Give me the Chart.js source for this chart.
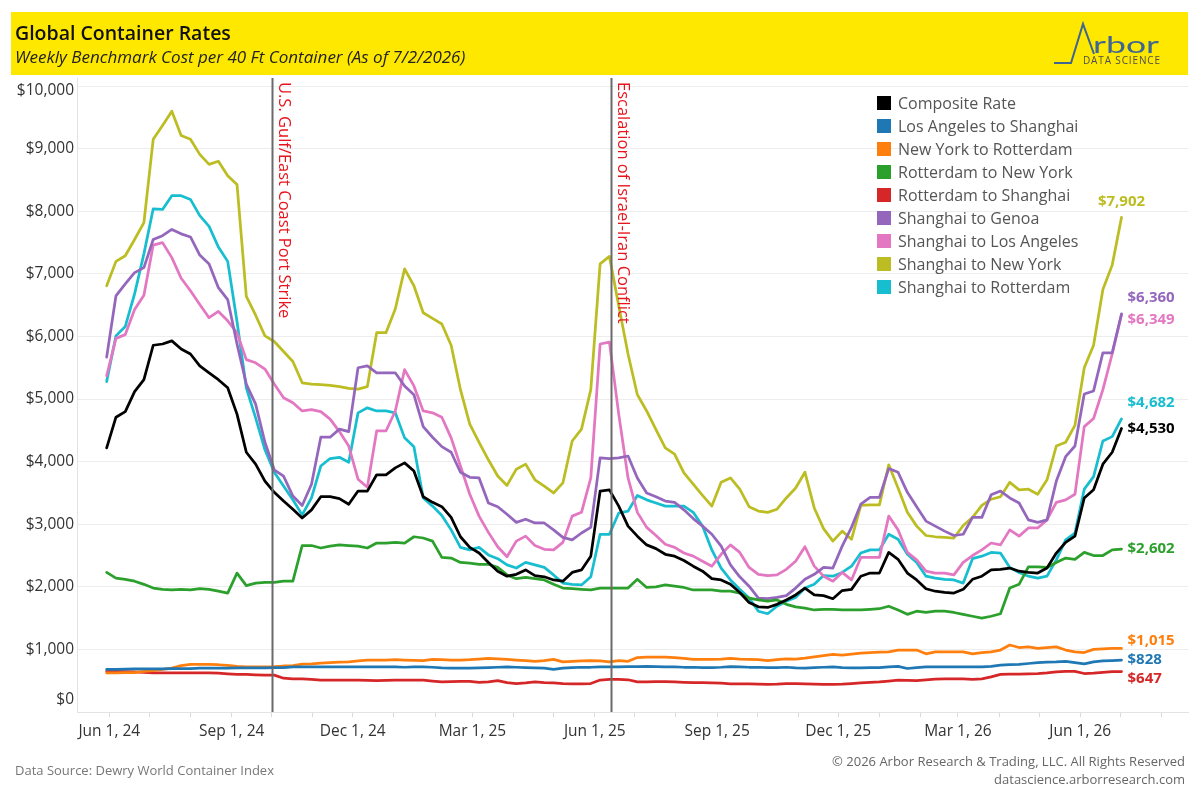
<!DOCTYPE html>
<html>
<head>
<meta charset="utf-8">
<title>Global Container Rates</title>
<script src="https://cdn.jsdelivr.net/npm/chart.js@4.4.1/dist/chart.umd.min.js"></script>
<style>
  html, body { margin: 0; padding: 0; background: #fff; }
  canvas { display: block; }
</style>
</head>
<body>
<canvas id="rates" width="1200" height="800"></canvas>
<script>
/* global Chart */

// weekly Drewry readings, first one on Thu 30 May 2024, last on Thu 2 Jul 2026
const firstWeek = '2024-05-30'
const weekCount = 110

const composite = [
  4220, 4710, 4800, 5120, 5310, 5860, 5880, 5930, 5800, 5720,
  5530, 5420, 5310, 5180, 4760, 4150, 3960, 3690, 3510, 3370,
  3240, 3100, 3230, 3440, 3440, 3410, 3320, 3530, 3530, 3790,
  3790, 3900, 3980, 3850, 3440, 3350, 3280, 3110, 2800, 2630,
  2540, 2390, 2250, 2170, 2200, 2270, 2180, 2160, 2110, 2090,
  2230, 2270, 2490, 3530, 3550, 3290, 2970, 2810, 2670, 2610,
  2520, 2490, 2420, 2330, 2250, 2130, 2110, 2040, 1910, 1750,
  1680, 1670, 1720, 1790, 1870, 1980, 1870, 1860, 1810, 1940,
  1960, 2170, 2220, 2220, 2550, 2440, 2220, 2110, 1970, 1930,
  1910, 1900, 1960, 2120, 2170, 2270, 2280, 2300, 2250, 2230,
  2220, 2300, 2540, 2710, 2810, 3420, 3550, 3960, 4150, 4530
]

const laToShanghai = [
  680, 680, 685, 690, 690, 690, 690, 695, 695, 695,
  700, 700, 700, 700, 705, 705, 705, 705, 710, 710,
  720, 720, 720, 720, 720, 720, 720, 720, 720, 720,
  720, 720, 715, 720, 720, 715, 705, 700, 700, 700,
  705, 710, 715, 720, 715, 710, 705, 700, 680, 700,
  710, 715, 715, 720, 720, 720, 725, 725, 730, 725,
  720, 720, 715, 715, 710, 710, 715, 725, 720, 715,
  715, 710, 710, 715, 705, 700, 710, 715, 720, 710,
  705, 705, 710, 710, 720, 730, 695, 710, 720, 720,
  720, 720, 720, 720, 720, 730, 750, 755, 760, 775,
  790, 795, 800, 810, 790, 770, 800, 815, 820, 828
]

const nyToRotterdam = [
  625, 625, 630, 630, 650, 660, 680, 700, 740, 760,
  760, 760, 755, 745, 730, 720, 720, 720, 725, 735,
  740, 765, 770, 780, 790, 795, 800, 815, 830, 830,
  830, 835, 830, 825, 820, 840, 835, 830, 830, 835,
  845, 855, 850, 840, 830, 820, 810, 820, 840, 800,
  810, 815, 820, 815, 800, 820, 810, 870, 875, 875,
  875, 870, 855, 840, 840, 840, 845, 855, 845, 840,
  835, 820, 835, 850, 845, 860, 880, 900, 920, 910,
  925, 940, 950, 955, 960, 990, 990, 990, 930, 960,
  960, 960, 960, 930, 950, 960, 990, 1070, 1030, 1040,
  1015, 1030, 1040, 990, 960, 950, 1000, 1010, 1015, 1015
]

const rotterdamToNy = [
  2230, 2140, 2120, 2090, 2040, 1980, 1960, 1950, 1960, 1950,
  1970, 1960, 1930, 1900, 2220, 2020, 2060, 2070, 2070, 2090,
  2090, 2660, 2660, 2620, 2650, 2670, 2660, 2650, 2620, 2700,
  2700, 2710, 2700, 2800, 2780, 2730, 2470, 2460, 2390, 2380,
  2360, 2360, 2310, 2190, 2130, 2150, 2130, 2110, 2040, 1980,
  1970, 1960, 1950, 1980, 1980, 1980, 1980, 2120, 1990, 2000,
  2030, 2010, 1990, 1950, 1950, 1950, 1930, 1930, 1900, 1820,
  1790, 1770, 1790, 1720, 1680, 1660, 1630, 1640, 1640, 1630,
  1630, 1630, 1640, 1650, 1690, 1630, 1560, 1610, 1590, 1610,
  1610, 1590, 1560, 1530, 1500, 1530, 1570, 1980, 2040, 2320,
  2320, 2310, 2390, 2460, 2440, 2550, 2500, 2500, 2590, 2602
]

const rotterdamToShanghai = [
  650, 650, 645, 640, 635, 625, 625, 625, 625, 625,
  625, 625, 620, 610, 600, 600, 595, 590, 590, 540,
  530, 530, 520, 510, 510, 510, 510, 510, 505, 500,
  505, 510, 510, 510, 510, 495, 480, 485, 490, 490,
  475, 480, 500, 470, 455, 465, 480, 470, 465, 455,
  450, 450, 455, 510, 520, 520, 515, 480, 480, 485,
  485, 480, 475, 470, 470, 465, 460, 450, 450, 450,
  445, 440, 445, 455, 455, 450, 445, 440, 440, 445,
  455, 465, 475, 480, 495, 510, 505, 500, 515, 525,
  530, 530, 530, 520, 530, 560, 600, 605, 605, 610,
  615, 625, 640, 650, 650, 615, 620, 635, 645, 647
]

const shanghaiToGenoa = [
  5670, 6650, 6840, 7020, 7100, 7550, 7610, 7710, 7640, 7590,
  7300, 7160, 6780, 6590, 5880, 5240, 4920, 4310, 3870, 3770,
  3450, 3300, 3640, 4390, 4390, 4520, 4480, 5500, 5530, 5420,
  5420, 5420, 5210, 5070, 4560, 4390, 4240, 4150, 3830, 3750,
  3740, 3340, 3280, 3160, 3030, 3080, 3020, 3020, 2910, 2790,
  2750, 2860, 2950, 4060, 4050, 4060, 4090, 3740, 3500, 3440,
  3370, 3350, 3230, 3090, 2970, 2840, 2650, 2350, 2160, 2010,
  1820, 1810, 1830, 1860, 1980, 2120, 2200, 2310, 2300, 2650,
  2950, 3320, 3430, 3430, 3890, 3830, 3510, 3280, 3050, 2970,
  2890, 2820, 2840, 3110, 3110, 3470, 3530, 3420, 3340, 3070,
  3030, 3070, 3690, 4080, 4250, 5080, 5130, 5740, 5740, 6360
]

const shanghaiToLa = [
  5370, 5970, 6030, 6430, 6660, 7460, 7500, 7260, 6930, 6730,
  6510, 6300, 6400, 6250, 6060, 5630, 5580, 5480, 5240, 5020,
  4940, 4810, 4830, 4800, 4680, 4480, 4250, 3720, 3590, 4490,
  4490, 4810, 5470, 5210, 4810, 4780, 4710, 4380, 3930, 3480,
  3130, 2870, 2640, 2480, 2730, 2810, 2660, 2600, 2590, 2710,
  3130, 3190, 3740, 5880, 5910, 4760, 3740, 3190, 2950, 2820,
  2680, 2630, 2540, 2490, 2410, 2330, 2520, 2670, 2550, 2310,
  2200, 2180, 2190, 2280, 2410, 2640, 2330, 2170, 2090, 2230,
  2110, 2470, 2470, 2470, 3130, 2910, 2550, 2430, 2250, 2220,
  2220, 2190, 2390, 2500, 2590, 2700, 2670, 2910, 2810, 2940,
  2940, 3070, 3350, 3390, 3480, 4560, 4690, 5150, 5720, 6349
]

const shanghaiToNy = [
  6810, 7200, 7290, 7550, 7820, 9150, 9370, 9600, 9210, 9150,
  8910, 8750, 8800, 8570, 8430, 6640, 6340, 6010, 5920, 5760,
  5600, 5260, 5240, 5230, 5220, 5200, 5170, 5160, 5200, 6060,
  6060, 6440, 7080, 6810, 6380, 6290, 6200, 5860, 5150, 4600,
  4310, 4030, 3770, 3620, 3880, 3960, 3710, 3610, 3500, 3660,
  4330, 4520, 5150, 7160, 7280, 6490, 5720, 5070, 4810, 4510,
  4220, 4120, 3820, 3640, 3460, 3290, 3670, 3740, 3560, 3280,
  3210, 3190, 3240, 3420, 3580, 3830, 3260, 2930, 2730, 2890,
  2760, 3300, 3310, 3310, 3950, 3580, 3190, 2970, 2820, 2800,
  2790, 2780, 2980, 3110, 3300, 3400, 3440, 3670, 3550, 3560,
  3480, 3710, 4250, 4310, 4580, 5500, 5860, 6750, 7140, 7902
]

const shanghaiToRotterdam = [
  5280, 6010, 6160, 6680, 7320, 8040, 8030, 8250, 8250, 8190,
  7930, 7760, 7430, 7200, 6240, 5180, 4700, 4190, 3830, 3610,
  3390, 3150, 3420, 3930, 4050, 4070, 3990, 4780, 4860, 4810,
  4810, 4780, 4380, 4240, 3420, 3290, 3140, 2910, 2630, 2590,
  2630, 2510, 2450, 2350, 2300, 2390, 2350, 2310, 2190, 2060,
  2040, 2030, 2160, 2840, 2840, 3180, 3210, 3460, 3390, 3340,
  3290, 3290, 3290, 3190, 2970, 2590, 2300, 2110, 1960, 1820,
  1610, 1570, 1690, 1770, 1830, 1980, 2040, 2180, 2170, 2230,
  2330, 2540, 2590, 2590, 2840, 2760, 2520, 2390, 2170, 2140,
  2120, 2110, 2060, 2450, 2490, 2550, 2540, 2310, 2230, 2170,
  2140, 2170, 2430, 2750, 2860, 3560, 3760, 4330, 4400, 4682
]

const yTicks = [0, 1000, 2000, 3000, 4000, 5000, 6000, 7000, 8000, 9000, 10000]
const labelledMonths = [2, 5, 8, 11] // Mar, Jun, Sep, Dec
const monthNames = ['Jan', 'Feb', 'Mar', 'Apr', 'May', 'Jun', 'Jul', 'Aug', 'Sep', 'Oct', 'Nov', 'Dec']

const events = [
  { date: '2024-10-01', label: 'U.S. Gulf/East Coast Port Strike' },
  { date: '2025-06-13', label: 'Escalation of Israel-Iran Conflict' }
]

const series = [
  { name: 'Composite Rate', values: composite, color: '#000000' },
  { name: 'Los Angeles to Shanghai', values: laToShanghai, color: '#1f77b4' },
  { name: 'New York to Rotterdam', values: nyToRotterdam, color: '#ff7f0e' },
  { name: 'Rotterdam to New York', values: rotterdamToNy, color: '#2ca02c' },
  { name: 'Rotterdam to Shanghai', values: rotterdamToShanghai, color: '#d62728' },
  { name: 'Shanghai to Genoa', values: shanghaiToGenoa, color: '#9467bd' },
  { name: 'Shanghai to Los Angeles', values: shanghaiToLa, color: '#e377c2' },
  { name: 'Shanghai to New York', values: shanghaiToNy, color: '#bcbd22' },
  { name: 'Shanghai to Rotterdam', values: shanghaiToRotterdam, color: '#17becf' }
]

// nudges for the end-of-line labels so they do not sit on each other (px)
const endLabelNudge = {
  'Composite Rate': 0,
  'Los Angeles to Shanghai': 0,
  'New York to Rotterdam': -8,
  'Rotterdam to New York': 0,
  'Rotterdam to Shanghai': 7,
  'Shanghai to Genoa': -16,
  'Shanghai to Los Angeles': 5,
  'Shanghai to New York': -16,
  'Shanghai to Rotterdam': -16
}

const FONT = '"Open Sans", "Noto Sans", sans-serif'
const DAY = 86400000

function dayOf (iso) {
  const [y, m, d] = iso.split('-').map(Number)
  return Date.UTC(y, m - 1, d) / DAY
}

const startDay = dayOf(firstWeek)
const weekDays = []
for (let i = 0; i < weekCount; i++) weekDays.push(startDay + i * 7)

const monthTicks = []
for (let y = 2024, m = 5; y < 2026 || (y === 2026 && m <= 7); m++) {
  if (m > 11) { m = 0; y++ }
  monthTicks.push(Date.UTC(y, m, 1) / DAY)
}

function moneyLabel (v) {
  return '$' + Math.round(v).toLocaleString('en-US')
}

function spacedText (ctx, text, x, y, width) {
  const chars = text.split('')
  const natural = chars.reduce((s, c) => s + ctx.measureText(c).width, 0)
  const gap = (width - natural) / (chars.length - 1)
  let cx = x
  chars.forEach((c) => {
    ctx.fillText(c, cx, y)
    cx += ctx.measureText(c).width + gap
  })
}

function stretchedText (ctx, text, x, y, width) {
  const w = ctx.measureText(text).width
  ctx.save()
  ctx.translate(x, y)
  ctx.scale(width / w, 1)
  ctx.fillText(text, 0, 0)
  ctx.restore()
}

const decor = {
  id: 'decor',
  beforeDraw (chart) {
    const { ctx } = chart
    ctx.save()
    ctx.fillStyle = '#ffffff'
    ctx.fillRect(0, 0, chart.width, chart.height)

    // header band
    ctx.fillStyle = '#ffe800'
    ctx.fillRect(11, 12, 1177, 63)
    ctx.fillStyle = '#111111'
    ctx.textBaseline = 'alphabetic'
    ctx.textAlign = 'left'
    ctx.font = `600 19.5px ${FONT}`
    ctx.fillText('Global Container Rates', 15, 40)
    ctx.fillStyle = '#222222'
    ctx.font = `italic 17px ${FONT}`
    ctx.fillText('Weekly Benchmark Cost per 40 Ft Container (As of 7/2/2026)', 15, 63)

    // logo
    ctx.strokeStyle = '#3f6591'
    ctx.lineWidth = 2
    ctx.lineJoin = 'miter'
    ctx.beginPath()
    ctx.moveTo(1054, 63)
    ctx.lineTo(1071, 63)
    ctx.lineTo(1083, 24)
    ctx.lineTo(1094, 54)
    ctx.stroke()
    ctx.fillStyle = '#3f6591'
    ctx.font = `400 23px Lato, ${FONT}`
    stretchedText(ctx, 'rbor', 1093, 53, 66)
    ctx.fillStyle = '#4d4d4d'
    ctx.font = `10px ${FONT}`
    spacedText(ctx, 'DATA SCIENCE', 1083, 64, 77)

    // footer
    ctx.font = `13px ${FONT}`
    ctx.fillStyle = '#777777'
    ctx.textBaseline = 'middle'
    ctx.fillText('Data Source: Dewry World Container Index', 15, 771)
    ctx.textAlign = 'right'
    ctx.fillStyle = '#666666'
    ctx.fillText('\u00a9 2026 Arbor Research & Trading, LLC. All Rights Reserved', 1185, 762)
    ctx.fillText('datascience.arborresearch.com', 1185, 780)
    ctx.restore()
  },
  afterDatasetsDraw (chart) {
    const { ctx, chartArea } = chart
    const x = chart.scales.x
    ctx.save()
    events.forEach((ev) => {
      const px = Math.round(x.getPixelForValue(dayOf(ev.date))) + 0.5
      ctx.strokeStyle = '#6a6a6a'
      ctx.lineWidth = 2
      ctx.beginPath()
      ctx.moveTo(px, chartArea.top)
      ctx.lineTo(px, chartArea.bottom)
      ctx.stroke()
      ctx.save()
      ctx.translate(px + 5, chartArea.top + 4)
      ctx.rotate(Math.PI / 2)
      ctx.fillStyle = '#e8141c'
      ctx.font = `16.5px ${FONT}`
      ctx.textAlign = 'left'
      ctx.textBaseline = 'alphabetic'
      ctx.fillText(ev.label, 0, -1)
      ctx.restore()
    })
    ctx.restore()
  },
  afterDraw (chart) {
    const { ctx, chartArea } = chart
    const y = chart.scales.y
    ctx.save()

    // y tick labels, kept inside the axis like the original
    ctx.font = `15.5px ${FONT}`
    ctx.fillStyle = '#333333'
    ctx.textAlign = 'right'
    ctx.textBaseline = 'middle'
    yTicks.forEach((v) => {
      let py = y.getPixelForValue(v)
      py = Math.max(chartArea.top + 13, Math.min(chartArea.bottom - 12, py))
      ctx.fillText(moneyLabel(v), 74, py)
    })

    // end-of-line value labels
    ctx.font = `bold 15px ${FONT}`
    series.forEach((s, i) => {
      const meta = chart.getDatasetMeta(i)
      const pt = meta.data[meta.data.length - 1]
      const last = s.values[s.values.length - 1]
      ctx.fillStyle = s.color
      if (s.name === 'Shanghai to New York') {
        ctx.textAlign = 'center'
        ctx.fillText(moneyLabel(last), pt.x, pt.y + endLabelNudge[s.name])
      } else {
        ctx.textAlign = 'left'
        ctx.fillText(moneyLabel(last), pt.x + 6, pt.y + endLabelNudge[s.name])
      }
    })

    // legend
    ctx.font = `16px ${FONT}`
    ctx.textAlign = 'left'
    series.forEach((s, i) => {
      const cy = 103 + i * 23
      ctx.fillStyle = s.color
      ctx.fillRect(877, cy - 7, 14, 14)
      ctx.fillStyle = '#555555'
      ctx.fillText(s.name, 898, cy + 1)
    })
    ctx.restore()
  }
}

const datasets = series.map((s) => ({
  label: s.name,
  data: s.values.map((v, i) => ({ x: weekDays[i], y: v })),
  borderColor: s.color,
  backgroundColor: s.color,
  borderWidth: 2.75,
  pointRadius: 0,
  tension: 0,
  borderJoinStyle: 'round',
  borderCapStyle: 'round'
}))

const chart = new Chart(document.getElementById('rates'), {
  type: 'line',
  data: { datasets },
  options: {
    responsive: false,
    animation: false,
    events: [],
    layout: { padding: { top: 78, right: 12, bottom: 48, left: 0 } },
    plugins: {
      legend: { display: false },
      tooltip: { enabled: false }
    },
    scales: {
      x: {
        type: 'linear',
        min: startDay - 22.3,
        max: startDay + 813,
        afterBuildTicks: (scale) => { scale.ticks = monthTicks.map(value => ({ value })) },
        afterFit: (scale) => { scale.height = 40 },
        grid: { drawOnChartArea: false, drawTicks: true, tickLength: 5, color: '#d9d9d9' },
        border: { display: true, color: '#e3e3e3' },
        ticks: {
          autoSkip: false,
          maxRotation: 0,
          padding: 5,
          color: '#333333',
          font: { family: FONT, size: 15.5 },
          callback: (value) => {
            const d = new Date(value * DAY)
            const m = d.getUTCMonth()
            if (!labelledMonths.includes(m)) return ''
            return `${monthNames[m]} 1, ${String(d.getUTCFullYear()).slice(2)}`
          }
        }
      },
      y: {
        min: 0,
        max: 10130,
        afterBuildTicks: (scale) => { scale.ticks = yTicks.map(value => ({ value })) },
        afterFit: (scale) => { scale.width = 77 },
        grid: { color: '#ededed', drawTicks: false },
        border: { display: true, color: '#e3e3e3' },
        ticks: { display: false }
      }
    }
  },
  plugins: [decor]
})
</script>
</body>
</html>
